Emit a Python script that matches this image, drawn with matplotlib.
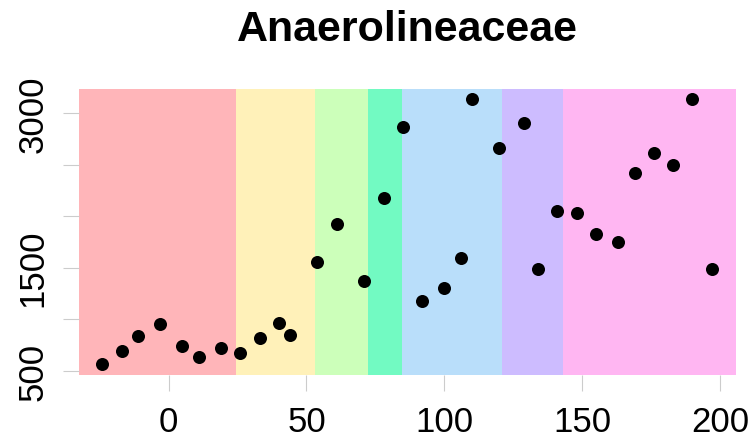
import matplotlib
matplotlib.use("Agg")
import matplotlib.pyplot as plt

plt.rcParams['font.family'] = ['Liberation Sans', 'DejaVu Sans']

title = "Anaerolineaceae"
days = [-24, -17, -11, -3, 5, 11, 19, 26, 33, 40, 44, 54, 61, 71, 78, 85,
        92, 100, 106, 110, 120, 129, 134, 141, 148, 155, 163, 169, 176, 183, 190, 197]
abundance = [562, 694, 840, 953, 737, 636, 717, 672, 820, 963, 850, 1552, 1927, 1371, 2180, 2869,
             1177, 1303, 1591, 3138, 2662, 2902, 1487, 2048, 2028, 1824, 1747, 2419, 2614, 2500, 3135, 1490]
phase_edges = [-32.4, 24.3, 53.1, 72.2, 84.7, 121.0, 143.2, 205.8]
phase_colors = ['#FFB5B9', '#FFF1B9', '#CCFFBA', '#72FAC2', '#B9DEFA', '#CDBCFF', '#FFB6F2']
xticks = [0, 50, 100, 150, 200]
yticks = [500, 1000, 1500, 2000, 2500, 3000]
ytick_labels = ['500', '', '1500', '', '', '3000']

fig = plt.figure(figsize=(7.53, 4.39), dpi=100)
ax = fig.add_axes([79.3/753, 1-375.7/439, (736-79.3)/753, (375.7-90)/439])

for i, c in enumerate(phase_colors):
    ax.axvspan(phase_edges[i], phase_edges[i+1], color=c, lw=0, zorder=0)

ax.scatter(days, abundance, s=88, c='black', zorder=3, linewidths=0)

ax.set_xlim(-32.4, 205.8)
ax.set_ylim(461, 3233)
ax.set_xticks(xticks)
ax.set_xticklabels([str(t) for t in xticks])
ax.set_yticks(yticks)
ax.set_yticklabels(ytick_labels, rotation=90, va='center')

for s in ax.spines.values():
    s.set_visible(False)

ax.tick_params(axis='both', length=11.5, width=0.8, color='#cccccc', labelsize=25)
ax.tick_params(axis='x', pad=10)
ax.tick_params(axis='y', pad=10)

ax.set_title(title, fontsize=31, fontweight='bold', pad=35)

fig.savefig("out.png", dpi=100)
